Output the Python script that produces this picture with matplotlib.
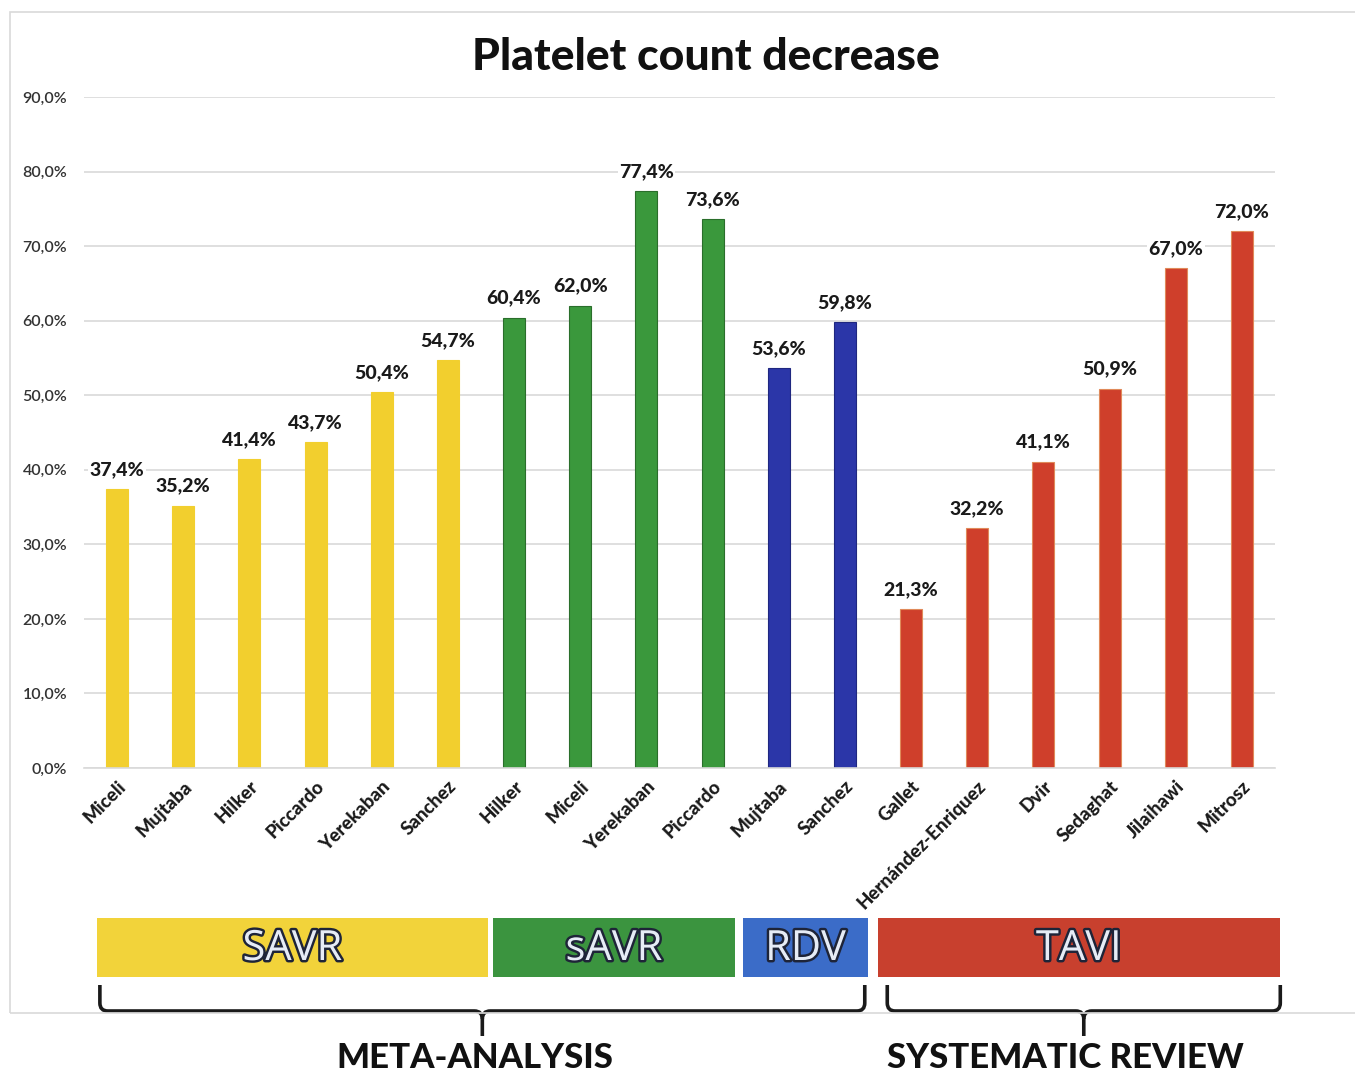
import matplotlib
matplotlib.use("Agg")
import matplotlib.pyplot as plt
import matplotlib.patheffects as pe
from matplotlib.patches import Rectangle
from matplotlib.path import Path
from matplotlib.patches import PathPatch
import numpy as np

plt.rcParams['font.family'] = ['Lato', 'DejaVu Sans']

# study names, values (%) and the group each bar belongs to
studies = ["Miceli", "Mujtaba", "Hilker", "Piccardo", "Yerekaban", "Sanchez",
           "Hilker", "Miceli", "Yerekaban", "Piccardo",
           "Mujtaba", "Sanchez",
           "Gallet", "Hernández-Enriquez", "Dvir", "Sedaghat", "Jilaihawi", "Mitrosz"]
values = [37.4, 35.2, 41.4, 43.7, 50.4, 54.7,
          60.4, 62.0, 77.4, 73.6,
          53.6, 59.8,
          21.3, 32.2, 41.1, 50.9, 67.0, 72.0]
groups = ["SAVR"] * 6 + ["sAVR"] * 4 + ["RDV"] * 2 + ["TAVI"] * 6

group_names = ["SAVR", "sAVR", "RDV", "TAVI"]
bar_colors = {"SAVR": "#F2CF2E", "sAVR": "#3A983C", "RDV": "#2B36A8", "TAVI": "#CF3F2B"}
edge_colors = {"SAVR": "#F2CF2E", "sAVR": "#2A6E2B", "RDV": "#1F2780", "TAVI": "#E08A5A"}
box_colors = {"SAVR": "#F2D33A", "sAVR": "#3B943F", "RDV": "#3B6CC8", "TAVI": "#C8402E"}

review_names = ["META-ANALYSIS", "SYSTEMATIC REVIEW"]
review_groups = [["SAVR", "sAVR", "RDV"], ["TAVI"]]

yticks = np.arange(0, 91, 10)

fig = plt.figure(figsize=(13.55, 10.75), dpi=100)

# light frame around the chart area
fig.patches.append(Rectangle((10 / 1355, 1 - 1013 / 1075), 1.2, (1013 - 12) / 1075,
                             transform=fig.transFigure, fill=False,
                             edgecolor="#D9D9D9", linewidth=1.2, zorder=0))

ax = fig.add_axes([84 / 1355, 1 - 768 / 1075, (1275 - 84) / 1355, (768 - 97) / 1075])
x = np.arange(len(values))
ax.bar(x, values, width=0.33,
       color=[bar_colors[g] for g in groups],
       edgecolor=[edge_colors[g] for g in groups], linewidth=0.8, zorder=2)

ax.set_xlim(-0.5, len(values) - 0.5)
ax.set_ylim(0, 90)
ax.set_yticks(yticks)
ax.set_yticklabels([f"{v:.1f}%".replace(".", ",") for v in yticks],
                   fontsize=11.5, color="#333333", fontweight="semibold")
ax.yaxis.grid(True, color="#D9D9D9", linewidth=1.2, zorder=0)
ax.set_axisbelow(True)
for s in ["left", "right", "top"]:
    ax.spines[s].set_visible(False)
ax.spines["bottom"].set_color("#D9D9D9")
ax.spines["bottom"].set_linewidth(1.2)
ax.tick_params(axis="y", length=0, pad=12)
ax.tick_params(axis="x", length=0, pad=7)

ax.set_xticks(x)
ax.set_xticklabels(studies, rotation=45, ha="right", rotation_mode="anchor",
                   fontsize=13.5, fontweight="black", color="#1a1a1a")

for xi, v in zip(x, values):
    ax.text(xi, v + 1.5, f"{v:.1f}%".replace(".", ","), ha="center", va="bottom",
            fontsize=14, fontweight="black", color="#1a1a1a", zorder=3,
            bbox=dict(facecolor="white", edgecolor="none", pad=1.0))

fig.text(706 / 1355, 1 - 57 / 1075, "Platelet count decrease", ha="center", va="center",
         fontsize=32, fontweight="black", color="#111111")

# group boxes and braces below the axis, sharing the bar x scale
ax2 = fig.add_axes([84 / 1355, 0, (1275 - 84) / 1355, 1 - 900 / 1075], sharex=ax)
ax2.set_ylim(1075, 900)
ax2.axis("off")

idx = {g: [i for i, gg in enumerate(groups) if gg == g] for g in group_names}
box_pad = {"SAVR": (0.30, 0.60), "sAVR": (0.32, 0.34), "RDV": (0.54, 0.35), "TAVI": (0.50, 0.57)}
for g in group_names:
    x0 = idx[g][0] - box_pad[g][0]
    x1 = idx[g][-1] + box_pad[g][1]
    ax2.add_patch(Rectangle((x0, 918), x1 - x0, 59, facecolor=box_colors[g],
                            edgecolor="none", clip_on=False))
    ax2.text((x0 + x1) / 2, 949, g, ha="center", va="center", fontsize=30,
             color="#E6ECF6", family="Open Sans",
             path_effects=[pe.withStroke(linewidth=3.5, foreground="#1E2438")])


def brace(axis, x0, x1, y_top, y_mid, y_tip, r=0.12, ry=8):
    xm = (x0 + x1) / 2
    verts = [(x0, y_top), (x0, y_mid - ry), (x0, y_mid), (x0 + r, y_mid),
             (xm - r, y_mid), (xm, y_mid), (xm, y_mid + ry), (xm, y_tip)]
    codes = [Path.MOVETO, Path.LINETO, Path.CURVE3, Path.CURVE3,
             Path.LINETO, Path.CURVE3, Path.CURVE3, Path.LINETO]
    axis.add_patch(PathPatch(Path(verts, codes), fill=False, edgecolor="#1a1a1a",
                             linewidth=2.6, clip_on=False))
    verts = [(x1, y_top), (x1, y_mid - ry), (x1, y_mid), (x1 - r, y_mid),
             (xm + r, y_mid), (xm, y_mid), (xm, y_mid + ry)]
    codes = [Path.MOVETO, Path.LINETO, Path.CURVE3, Path.CURVE3,
             Path.LINETO, Path.CURVE3, Path.CURVE3]
    axis.add_patch(PathPatch(Path(verts, codes), fill=False, edgecolor="#1a1a1a",
                             linewidth=2.6, clip_on=False))
    return xm


brace_pad = [(0.26, 0.30), (0.36, 0.58)]
text_shift = [-0.12, -0.28]
for name, gs, pad, dx in zip(review_names, review_groups, brace_pad, text_shift):
    first = idx[gs[0]][0]
    last = idx[gs[-1]][-1]
    xm = brace(ax2, first - pad[0], last + pad[1], 985, 1011, 1036)
    ax2.text(xm + dx, 1058, name, ha="center", va="center", fontsize=25,
             fontweight="black", color="#111111")

fig.savefig("out.png", dpi=100, facecolor="white")
